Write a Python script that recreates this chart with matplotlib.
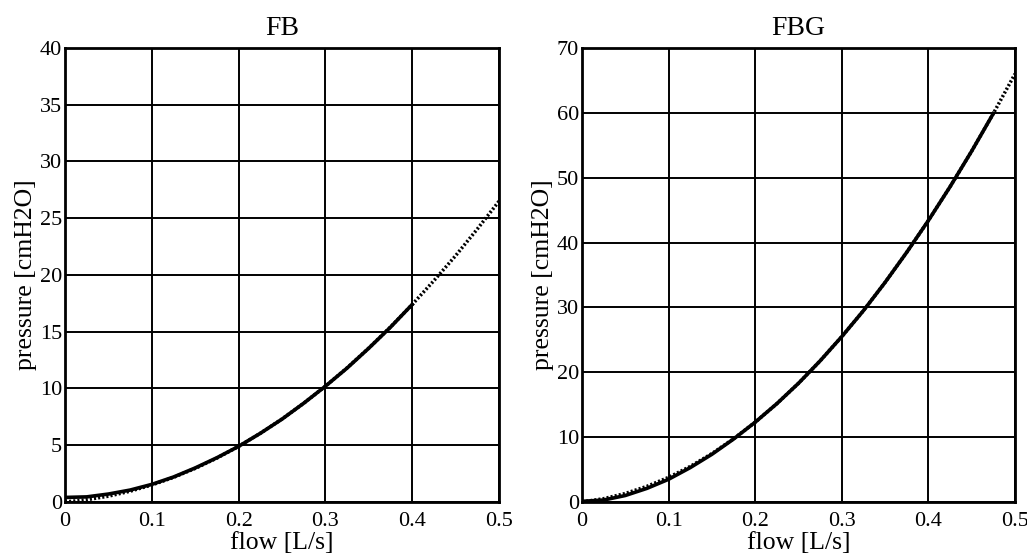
import matplotlib
matplotlib.use("Agg")
import matplotlib.pyplot as plt
import numpy as np

# ---- data ----
flow = [0.0, 0.025, 0.05, 0.075, 0.1, 0.125, 0.15, 0.175, 0.2, 0.225, 0.25,
        0.275, 0.3, 0.325, 0.35, 0.375, 0.4, 0.425, 0.45, 0.475, 0.5]

fb_measured_flow = flow[:17]
fb_measured = [0.40, 0.45, 0.70, 1.05, 1.55, 2.20, 3.00, 3.90, 4.90, 6.05,
               7.30, 8.70, 10.2, 11.8, 13.55, 15.4, 17.4]
fb_fit = [0.0, 0.20, 0.51, 0.95, 1.50, 2.17, 2.96, 3.87, 4.90, 6.05, 7.31,
          8.70, 10.2, 11.82, 13.56, 15.42, 17.4, 19.5, 21.7, 24.05, 26.5]

fbg_measured_flow = flow[:20]
fbg_measured = [0.10, 0.30, 1.00, 2.10, 3.50, 5.30, 7.35, 9.70, 12.3, 15.16,
                18.3, 21.76, 25.5, 29.5, 33.86, 38.5, 43.4, 48.6, 54.1, 59.9]
fbg_fit = [0.0, 0.51, 1.31, 2.41, 3.80, 5.48, 7.46, 9.74, 12.3, 15.16, 18.3,
           21.76, 25.5, 29.5, 33.86, 38.5, 43.4, 48.6, 54.1, 59.9, 66.0]

titles = ["FB", "FBG"]
x_ticks = [0, 0.1, 0.2, 0.3, 0.4, 0.5]
x_tick_labels = ["0", "0.1", "0.2", "0.3", "0.4", "0.5"]
fb_y_ticks = [0, 5, 10, 15, 20, 25, 30, 35, 40]
fbg_y_ticks = [0, 10, 20, 30, 40, 50, 60, 70]

plt.rcParams['font.family'] = ['Liberation Serif', 'DejaVu Serif']

fig = plt.figure(figsize=(10.27, 5.54), dpi=100)
ax1 = fig.add_axes([0.0633, 0.0939, 0.4226, 0.8195])
ax2 = fig.add_axes([0.5667, 0.0939, 0.4216, 0.8195])

panels = [
    (ax1, fb_measured_flow, fb_measured, fb_fit, fb_y_ticks, 40),
    (ax2, fbg_measured_flow, fbg_measured, fbg_fit, fbg_y_ticks, 70),
]

for i, (ax, mflow, meas, fit, yt, ymax) in enumerate(panels):
    ax.plot(flow, fit, color='black', linestyle=(0, (0.6, 0.6)), linewidth=2.5, zorder=3)
    ax.plot(mflow, meas, color='black', linestyle='-', linewidth=2.6, zorder=4)
    ax.set_xlim(0, 0.5)
    ax.set_ylim(0, ymax)
    ax.set_xticks(x_ticks)
    ax.set_xticklabels(x_tick_labels)
    ax.set_yticks(yt)
    ax.grid(True, color='black', linewidth=1.4)
    ax.set_axisbelow(True)
    ax.tick_params(axis='both', length=0, labelsize=16)
    ax.tick_params(axis='x', pad=7)
    ax.tick_params(axis='y', pad=2)
    for s in ax.spines.values():
        s.set_linewidth(2.0)
        s.set_color('black')
    ax.set_title(titles[i], fontsize=20, pad=9)
    ax.set_xlabel("flow [L/s]", fontsize=18.5, labelpad=1)
    ax.set_ylabel("pressure [cmH2O]", fontsize=18.5, labelpad=2)

fig.savefig("out.png", dpi=100)
